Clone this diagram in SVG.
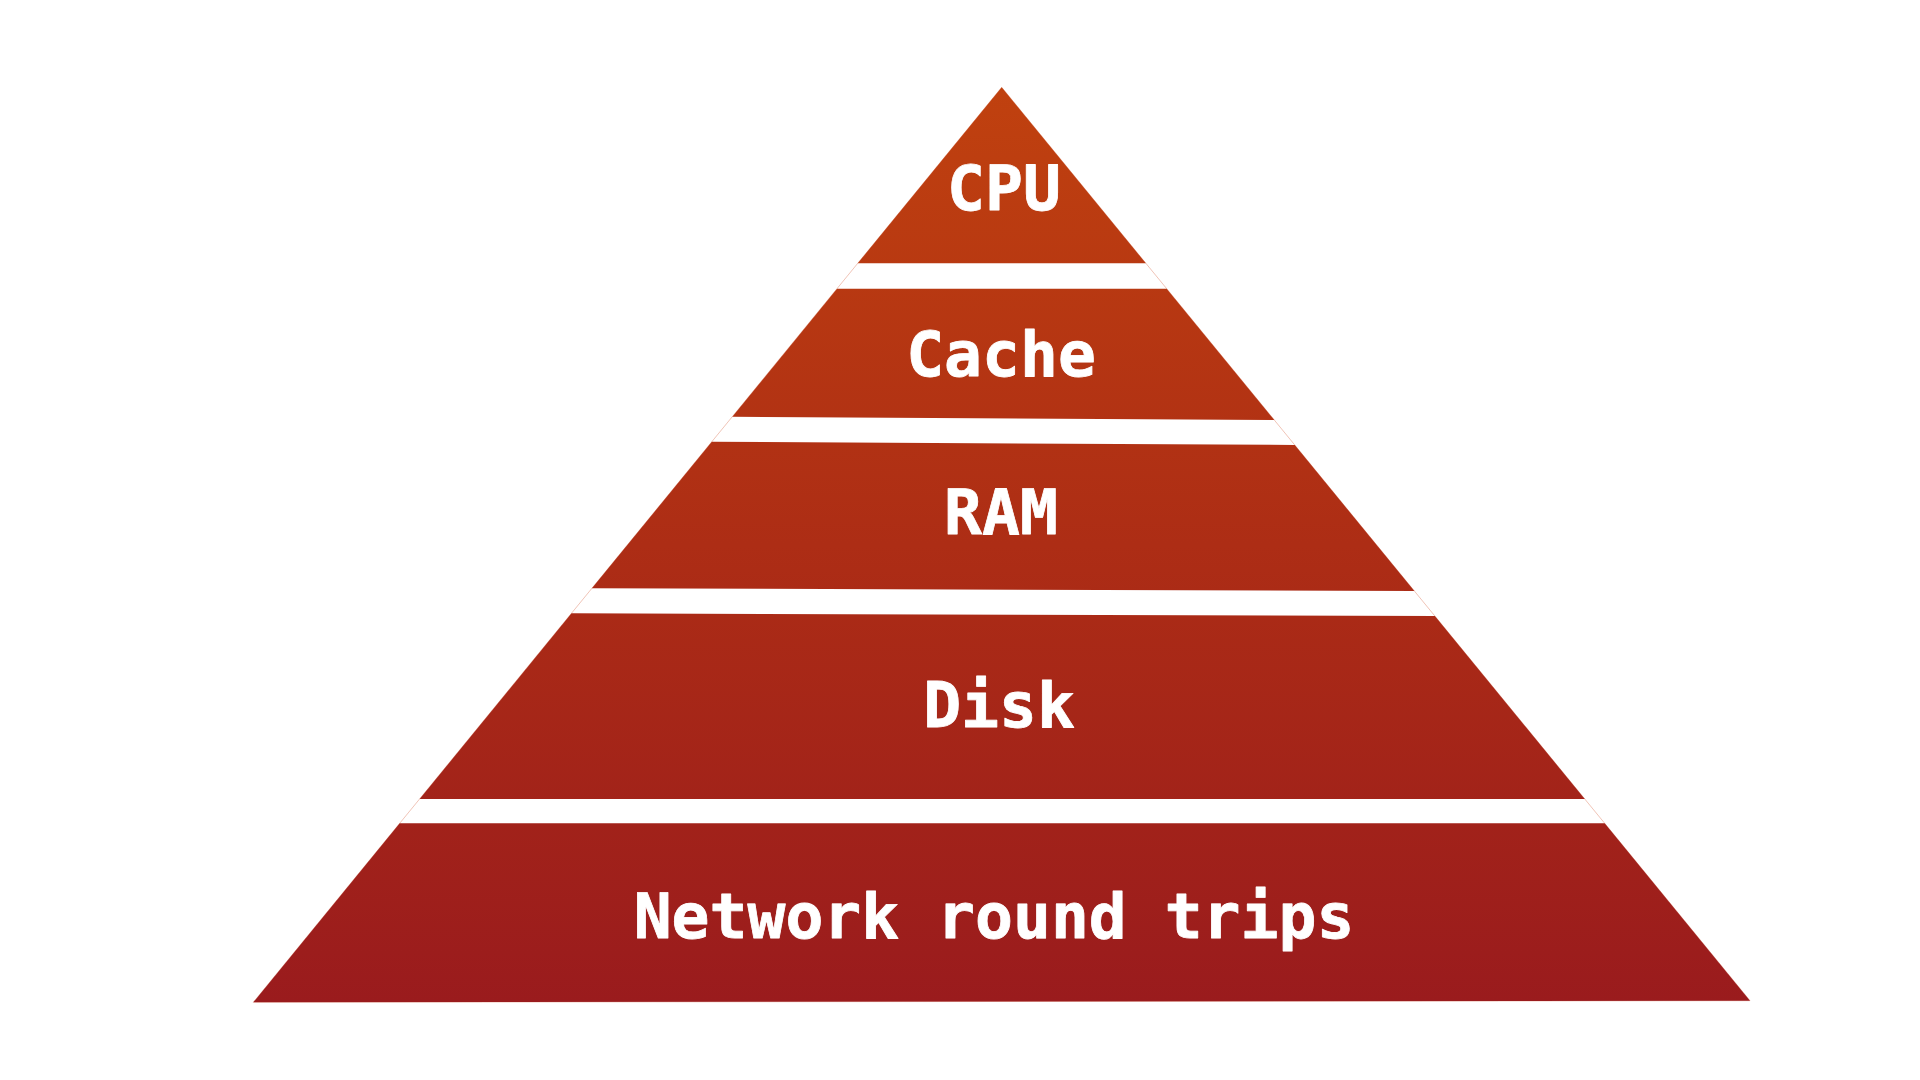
<svg xmlns="http://www.w3.org/2000/svg" width="1920" height="1080" viewBox="0 0 1920 1080">
  <defs>
    <linearGradient id="tier-fill" gradientUnits="userSpaceOnUse" x1="0" y1="87" x2="0" y2="1002">
      <stop offset="0" stop-color="#c0410f"/>
      <stop offset="0.5" stop-color="#ad2d15"/>
      <stop offset="1" stop-color="#9a1b1d"/>
    </linearGradient>
    <style>
      .tier { fill: url(#tier-fill); }
      .label { fill: #ffffff; stroke: #ffffff; stroke-width: 0.8; stroke-linejoin: round; font-family: "DejaVu Sans Mono", "Liberation Mono", monospace; font-weight: bold; font-size: 63px; text-anchor: middle; }
      .rim { fill: none; stroke: #ecb5a5; stroke-width: 0.8; }
    </style>
  </defs>
  <rect width="1920" height="1080" fill="#ffffff"/>

  <!-- faint outline of the whole pyramid, visible in the gaps -->
  <path class="rim" d="M1001.7,87.3 L1750,1000.7 L253.3,1002.3 Z"/>

  <g id="tier-cpu">
    <polygon class="tier" points="1001.7,87.3 1145.9,263.3 857.7,263.3"/>
    <text class="label" x="1004" y="210">CPU</text>
  </g>

  <g id="tier-cache">
    <polygon class="tier" points="837,288.7 1166.7,288.7 1274.3,420 732.3,416.7"/>
    <text class="label" x="1001" y="376">Cache</text>
  </g>

  <g id="tier-ram">
    <polygon class="tier" points="711.8,441.7 1294.8,445 1414.4,591 591.9,588.3"/>
    <text class="label" x="1001" y="534">RAM</text>
  </g>

  <g id="tier-disk">
    <polygon class="tier" points="571.5,613.3 1434.9,616 1584.8,799 419.6,799"/>
    <text class="label" x="999" y="727">Disk</text>
  </g>

  <g id="tier-network">
    <polygon class="tier" points="399.7,823.3 1604.7,823.3 1750,1000.7 253.3,1002.3"/>
    <text class="label" x="994" y="938">Network round trips</text>
  </g>

  <g id="connectors"/>
</svg>
